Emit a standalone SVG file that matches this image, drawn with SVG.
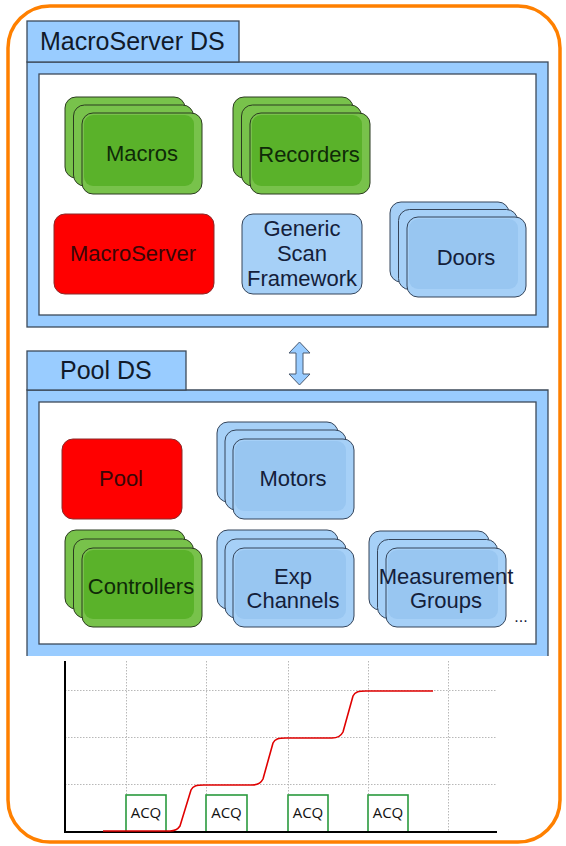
<svg xmlns="http://www.w3.org/2000/svg" width="566" height="846" viewBox="0 0 566 846">
<style>
.frame{fill:#99ccff;stroke:#3c4a5a;stroke-width:1.3}
.inner{fill:#ffffff;stroke:#3c4a5a;stroke-width:1.3}
.title{font-family:"Liberation Sans",Arial,sans-serif;font-size:25px;fill:#111a2a}
.lbl{font-family:"Liberation Sans",Arial,sans-serif;font-size:22px;text-anchor:middle}
.gO{fill:#78c24b;stroke:#2b3a20;stroke-width:1}
.gI{fill:#5ab22a}
.bO{fill:#a6d0f7;stroke:#34445a;stroke-width:1}
.bI{fill:#98c6f1}
.red{fill:#ff0000;stroke:#8a2a2a;stroke-width:1}
.tg{fill:#0f2a08}
.tb{fill:#14203a}
.tr{fill:#3a0606}
.grid{stroke:#b8b8b8;stroke-width:1;stroke-dasharray:1.5,1.5;fill:none}
.acq{fill:#ffffff;stroke:#2a9a3e;stroke-width:1.6}
.acqt{font-family:"Open Sans","Liberation Sans",sans-serif;font-size:15px;fill:#111;text-anchor:middle}
</style>
<rect x="8" y="6" width="552" height="836" rx="42" fill="#ffffff" stroke="#ff8000" stroke-width="3.5"/>

<g id="macroserver-ds">
<rect class="frame" x="27" y="62" width="521" height="265"/>
<rect class="inner" x="39" y="74" width="497" height="241"/>
<rect class="frame" x="27" y="21" width="212" height="41"/>
<text class="title" x="40" y="50">MacroServer DS</text>
</g>

<g id="macros">
<rect class="gO" x="65" y="97" width="120" height="81" rx="11"/>
<rect class="gO" x="73.5" y="105" width="120" height="81" rx="11"/>
<rect class="gO" x="82" y="113" width="120" height="81" rx="11"/>
<rect class="gI" x="84" y="115" width="110" height="71" rx="9"/>
<text class="lbl tg" x="142" y="161">Macros</text>
</g>

<g id="recorders">
<rect class="gO" x="233" y="97" width="120" height="81" rx="11"/>
<rect class="gO" x="241.5" y="105" width="120" height="81" rx="11"/>
<rect class="gO" x="250" y="113" width="120" height="81" rx="11"/>
<rect class="gI" x="252" y="115" width="110" height="71" rx="9"/>
<text class="lbl tg" x="309" y="162">Recorders</text>
</g>

<g id="macroserver">
<rect class="red" x="54" y="214" width="160" height="80" rx="11"/>
<text class="lbl tr" x="133" y="261">MacroServer</text>
</g>

<g id="generic-scan-framework">
<rect class="bO" x="242" y="214" width="120" height="80" rx="11"/>
<text class="lbl tb" x="302" y="236">Generic</text>
<text class="lbl tb" x="302" y="261">Scan</text>
<text class="lbl tb" x="302" y="286">Framework</text>
</g>

<g id="doors">
<rect class="bO" x="390" y="202" width="119" height="80" rx="11"/>
<rect class="bO" x="398.5" y="209.5" width="119" height="80" rx="11"/>
<rect class="bO" x="407" y="217" width="119" height="80" rx="11"/>
<rect class="bI" x="409" y="219" width="109" height="70" rx="9"/>
<text class="lbl tb" x="466" y="265">Doors</text>
</g>

<g id="connectors">
<polygon points="299.5,342 310,353 303,353 303,374 310,374 299.5,385 289,374 296,374 296,353 289,353" fill="#99ccff" stroke="#4a5a70" stroke-width="1"/>
</g>

<g id="pool-ds">
<rect x="27" y="390" width="521" height="266" fill="#99ccff"/>
<path d="M27,656 V390 H548 V656" fill="none" stroke="#3c4a5a" stroke-width="1.3"/>
<rect class="inner" x="39" y="402" width="497" height="242"/>
<rect class="frame" x="27" y="351" width="159" height="39"/>
<text class="title" x="60" y="379">Pool DS</text>
</g>

<g id="pool">
<rect class="red" x="62" y="439" width="120" height="80" rx="11"/>
<text class="lbl tr" x="121" y="486">Pool</text>
</g>

<g id="motors">
<rect class="bO" x="217" y="422" width="121" height="80" rx="11"/>
<rect class="bO" x="225" y="430" width="121" height="80" rx="11"/>
<rect class="bO" x="233" y="439" width="121" height="80" rx="11"/>
<rect class="bI" x="235" y="441" width="111" height="70" rx="9"/>
<text class="lbl tb" x="293" y="486">Motors</text>
</g>

<g id="controllers">
<rect class="gO" x="65" y="530" width="120" height="79" rx="11"/>
<rect class="gO" x="73.5" y="539" width="120" height="79" rx="11"/>
<rect class="gO" x="82" y="548" width="120" height="79" rx="11"/>
<rect class="gI" x="84" y="550" width="110" height="69" rx="9"/>
<text class="lbl tg" x="141" y="594">Controllers</text>
</g>

<g id="exp-channels">
<rect class="bO" x="217" y="530" width="121" height="79" rx="11"/>
<rect class="bO" x="225" y="539" width="121" height="79" rx="11"/>
<rect class="bO" x="233" y="548" width="121" height="79" rx="11"/>
<rect class="bI" x="235" y="550" width="111" height="69" rx="9"/>
<text class="lbl tb" x="293" y="584">Exp</text>
<text class="lbl tb" x="293" y="608">Channels</text>
</g>

<g id="measurement-groups">
<rect class="bO" x="369" y="531" width="120" height="79" rx="11"/>
<rect class="bO" x="377.5" y="539.5" width="120" height="79" rx="11"/>
<rect class="bO" x="386" y="548" width="120" height="79" rx="11"/>
<rect class="bI" x="388" y="550" width="110" height="69" rx="9"/>
<text class="lbl tb" x="446" y="584">Measurement</text>
<text class="lbl tb" x="446" y="608">Groups</text>
<text class="lbl tb" x="521" y="622" style="font-size:16px">...</text>
</g>

<g id="chart">
<path class="grid" d="M65,690.5 H497 M65,737.5 H497 M65,784.5 H497 M126.5,661 V831 M206.5,661 V831 M288.5,661 V831 M368.5,661 V831 M448.5,661 V831"/>
<rect class="acq" x="126" y="795" width="40" height="37"/>
<rect class="acq" x="206" y="795" width="41" height="37"/>
<rect class="acq" x="288" y="795" width="40" height="37"/>
<rect class="acq" x="368" y="795" width="40" height="37"/>
<text class="acqt" x="146" y="818">ACQ</text>
<text class="acqt" x="226.5" y="818">ACQ</text>
<text class="acqt" x="308" y="818">ACQ</text>
<text class="acqt" x="388" y="818">ACQ</text>
<path d="M65,661 V832 H497" fill="none" stroke="#000" stroke-width="2"/>
<path d="M103,831 L170,831 C176,831 178,829 180,826 L191,790 C193,786 196,785 204,785 L252,785 C258,785 261,783 263,779 L273,743 C275,739 278,738 286,738 L332,738 C338,738 341,736 343,732 L353,696 C355,692 358,691 366,691 L433,691" fill="none" stroke="#e00000" stroke-width="1.6"/>
</g>
</svg>
